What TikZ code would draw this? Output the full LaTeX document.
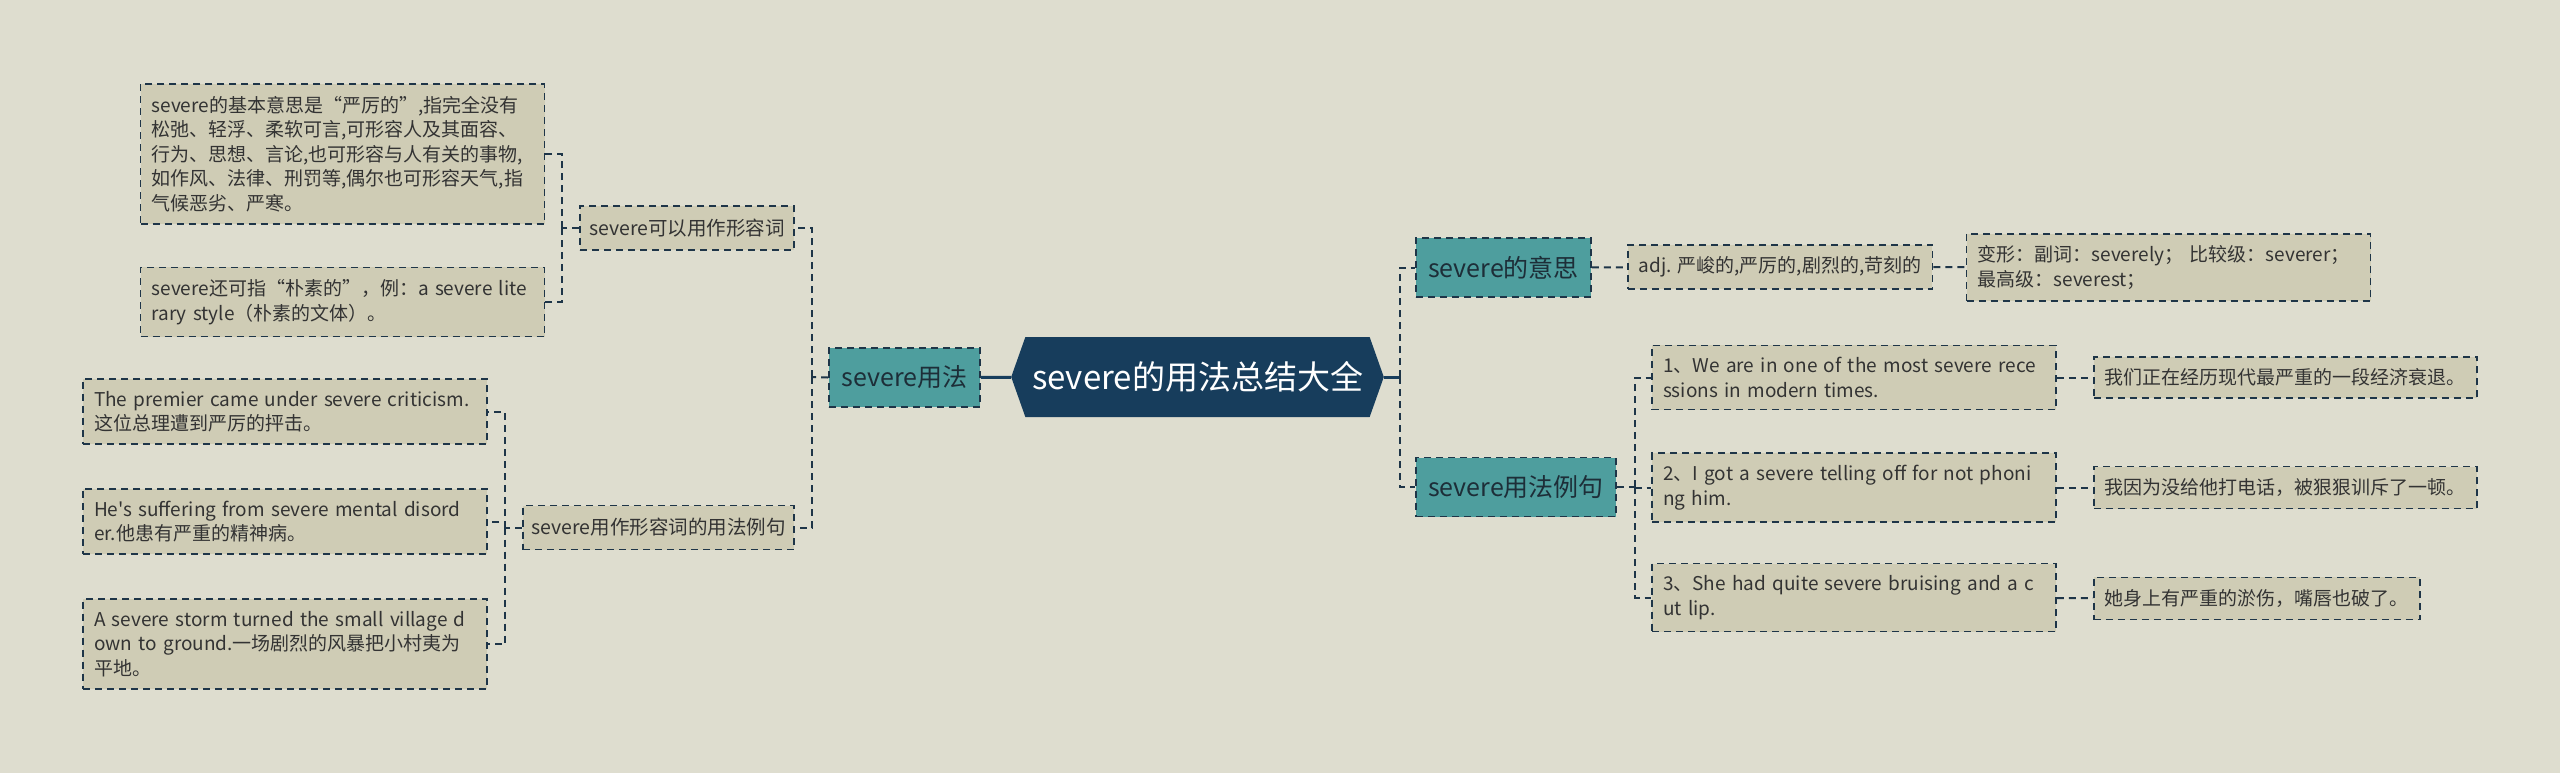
\documentclass[tikz,border=0pt]{standalone}
\usepackage{fontspec}
\setmainfont{Noto Sans CJK SC}[Ligatures=TeXOff]
\usepackage{xcolor}
\usetikzlibrary{shapes.symbols}
\definecolor{bgcol}{HTML}{DEDDCF}
\definecolor{leafcol}{HTML}{CFCCB5}
\definecolor{tealcol}{HTML}{4E9E9E}
\definecolor{navycol}{HTML}{173D5C}
\definecolor{linecol}{HTML}{1E3548}
\definecolor{txtcol}{HTML}{333333}
\definecolor{tealtxt}{HTML}{1D2E38}
\tikzset{
  box/.style={draw=linecol, line width=0.9pt, dash pattern=on 3.5pt off 2.5pt},
  leaf/.style={box, fill=leafcol, text=txtcol, font=\fontsize{9.5}{12.25}\selectfont, align=left, inner xsep=5.5pt, inner ysep=6pt},
  wideleaf/.style={leaf, text width=191pt},
  topic/.style={box, fill=leafcol, text=txtcol, font=\fontsize{9.75}{12}\selectfont, minimum height=22pt},
  branch/.style={box, fill=tealcol, text=tealtxt, font=\fontsize{12.5}{14}\selectfont, minimum height=29.5pt},
  title/.style={signal, signal to=west and east, signal pointer angle=141, fill=navycol, text=white, font=\fontsize{16.5}{18}\selectfont, minimum height=40pt, minimum width=183.5pt},
  link/.style={draw=linecol, line width=1pt, dash pattern=on 3.5pt off 2.5pt},
  trunk/.style={draw=navycol, line width=1.5pt}
}
\begin{document}
\begin{tikzpicture}[x=0.5pt,y=-0.5pt]
    \useasboundingbox (0,0) rectangle (2560,773);
    \fill[bgcol] (0,0) rectangle (2560,773);
    % centre and main branches
    \node[title] (root) at (1197.5,377) {severe的用法总结大全};
    \node[branch, minimum width=75.5pt] (use) at (904.5,377.5) {severe用法};
    \node[branch, minimum width=87.5pt] (mean) at (1503.5,267.5) {severe的意思};
    \node[branch, minimum width=100pt] (ex) at (1516,487) {severe用法例句};
    % left side
    \node[topic, minimum width=107pt] (adj) at (687,228) {severe可以用作形容词};
    \node[topic, minimum width=135.5pt] (adjex) at (658.5,527.5) {severe用作形容词的用法例句};
    \node[wideleaf] (basic) at (342.5,154) {severe的基本意思是“严厉的”,指完全没有\\松弛、轻浮、柔软可言,可形容人及其面容、\\行为、思想、言论,也可形容与人有关的事物,\\如作风、法律、刑罚等,偶尔也可形容天气,指\\气候恶劣、严寒。};
    \node[wideleaf] (plain) at (342.5,302) {severe还可指“朴素的”，例：a severe lite\\rary style（朴素的文体）。};
    \node[wideleaf] (exa) at (285,411.5) {The premier came under severe criticism.\\这位总理遭到严厉的抨击。};
    \node[wideleaf] (exb) at (285,521.5) {He's suffering from severe mental disord\\er.他患有严重的精神病。};
    \node[wideleaf] (exc) at (285,644) {A severe storm turned the small village d\\own to ground.一场剧烈的风暴把小村夷为\\平地。};
    % right side
    \node[leaf, anchor=west] (adjword) at (1627,267) {adj. 严峻的,严厉的,剧烈的,苛刻的};
    \node[wideleaf] (forms) at (2168.5,267.5) {变形：副词：severely；\ 比较级：severer；\\最高级：severest；};
    \node[wideleaf] (sena) at (1854,377.5) {1、We are in one of the most severe rece\\ssions in modern times.};
    \node[wideleaf] (senb) at (1854,487.5) {2、I got a severe telling off for not phoni\\ng him.};
    \node[wideleaf] (senc) at (1854,597.5) {3、She had quite severe bruising and a c\\ut lip.};
    \node[leaf, anchor=west] (trna) at (2093,377.5) {我们正在经历现代最严重的一段经济衰退。};
    \node[leaf, anchor=west] (trnb) at (2093,487.5) {我因为没给他打电话，被狠狠训斥了一顿。};
    \node[leaf, anchor=west] (trnc) at (2093,598.5) {她身上有严重的淤伤，嘴唇也破了。};
    % junctions
    \coordinate (jl) at (812,377);
    \coordinate (jd) at (562,228);
    \coordinate (je) at (505,527.5);
    \coordinate (jr) at (1400,377);
    \coordinate (js) at (1635,487);
    % connectors
    \draw[trunk] (use) -- (root);
    \draw[trunk] (root.east) -- (jr);
    \draw[link] (use.west) -- (jl);
    \draw[link] (jl) |- (adj.east);
    \draw[link] (jl) |- (adjex.east);
    \draw[link] (adj.west) -- (jd);
    \draw[link] (jd) |- (basic.east);
    \draw[link] (jd) |- (plain.east);
    \draw[link] (adjex.west) -- (je);
    \draw[link] (je) |- (exa.east);
    \draw[link] (je) |- (exb.east);
    \draw[link] (je) |- (exc.east);
    \draw[link] (jr) |- (mean.west);
    \draw[link] (jr) |- (ex.west);
    \draw[link] (mean) -- (adjword);
    \draw[link] (adjword) -- (forms);
    \draw[link] (ex.east) -- (js);
    \draw[link] (js) |- (sena.west);
    \draw[link] (js) |- (senb.west);
    \draw[link] (js) |- (senc.west);
    \draw[link] (sena) -- (trna);
    \draw[link] (senb) -- (trnb);
    \draw[link] (senc) -- (trnc);
\end{tikzpicture}
\end{document}
